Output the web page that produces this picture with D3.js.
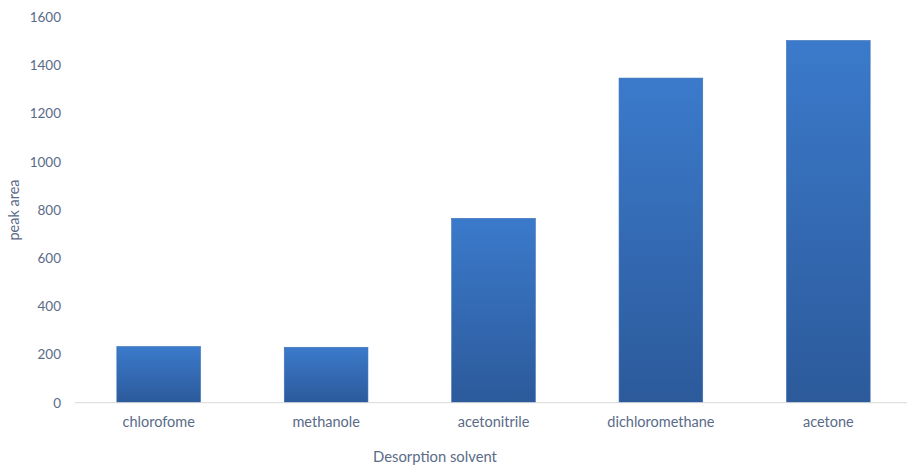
<!DOCTYPE html>
<html>
<head>
<meta charset="utf-8">
<script src="https://cdn.jsdelivr.net/npm/d3@7"></script>
<style>
  html, body { margin: 0; padding: 0; background: #ffffff; }
  svg { display: block; }
</style>
</head>
<body>
<svg id="chart" width="907" height="468"></svg>
<script>
// Peak area per desorption solvent
const categories = ["chlorofome", "methanole", "acetonitrile", "dichloromethane", "acetone"];
const peakArea = [233, 230, 765, 1347, 1503];
const yTicks = [0, 200, 400, 600, 800, 1000, 1200, 1400, 1600];

const svg = d3.select("#chart");
const textColor = "#5a6b88";
const font = "Lato, 'Open Sans', sans-serif";

const x = d3.scaleBand()
  .domain(categories)
  .range([75, 912])
  .paddingInner(0.5)
  .paddingOuter(0.25);

const y = d3.scaleLinear()
  .domain([0, 1600])
  .range([402.7, 17.1]);

// vertical gradient for the bars
const defs = svg.append("defs");
const grad = defs.append("linearGradient")
  .attr("id", "barFill")
  .attr("x1", 0).attr("y1", 0).attr("x2", 0).attr("y2", 1);
grad.append("stop").attr("offset", "0%").attr("stop-color", "#3b7acb");
grad.append("stop").attr("offset", "100%").attr("stop-color", "#2c5a9b");

// bars
svg.append("g")
  .selectAll("rect")
  .data(categories)
  .join("rect")
  .attr("x", d => x(d))
  .attr("width", x.bandwidth())
  .attr("y", (d, i) => y(peakArea[i]))
  .attr("height", (d, i) => y(0) - y(peakArea[i]))
  .attr("fill", "url(#barFill)")
  .attr("stroke", "#3a6fb5")
  .attr("stroke-width", 0.6);

// baseline
svg.append("line")
  .attr("x1", 75).attr("x2", 907)
  .attr("y1", y(0)).attr("y2", y(0))
  .attr("stroke", "#d9d9d9")
  .attr("stroke-width", 1);

// y axis labels
const yAxis = d3.axisLeft(y)
  .tickValues(yTicks)
  .tickSize(0)
  .tickPadding(0)
  .tickFormat(d3.format("d"));
const yg = svg.append("g")
  .attr("transform", "translate(61,0)")
  .call(yAxis);
yg.select(".domain").remove();
yg.selectAll("text")
  .attr("fill", textColor)
  .style("font-family", font)
  .style("font-size", "13.5px");

// x axis labels
const xAxis = d3.axisBottom(x).tickSize(0).tickPadding(0);
const xg = svg.append("g")
  .attr("transform", `translate(0,${y(0) + 14})`)
  .call(xAxis);
xg.select(".domain").remove();
xg.selectAll("text")
  .attr("fill", textColor)
  .style("font-family", font)
  .style("font-size", "14.5px");

// axis titles
svg.append("text")
  .attr("x", 435).attr("y", 462)
  .attr("text-anchor", "middle")
  .attr("fill", textColor)
  .style("font-family", font)
  .style("font-size", "14.8px")
  .text("Desorption solvent");

svg.append("text")
  .attr("transform", "translate(19,210) rotate(-90)")
  .attr("text-anchor", "middle")
  .attr("fill", textColor)
  .style("font-family", font)
  .style("font-size", "14.5px")
  .text("peak area");
</script>
</body>
</html>
